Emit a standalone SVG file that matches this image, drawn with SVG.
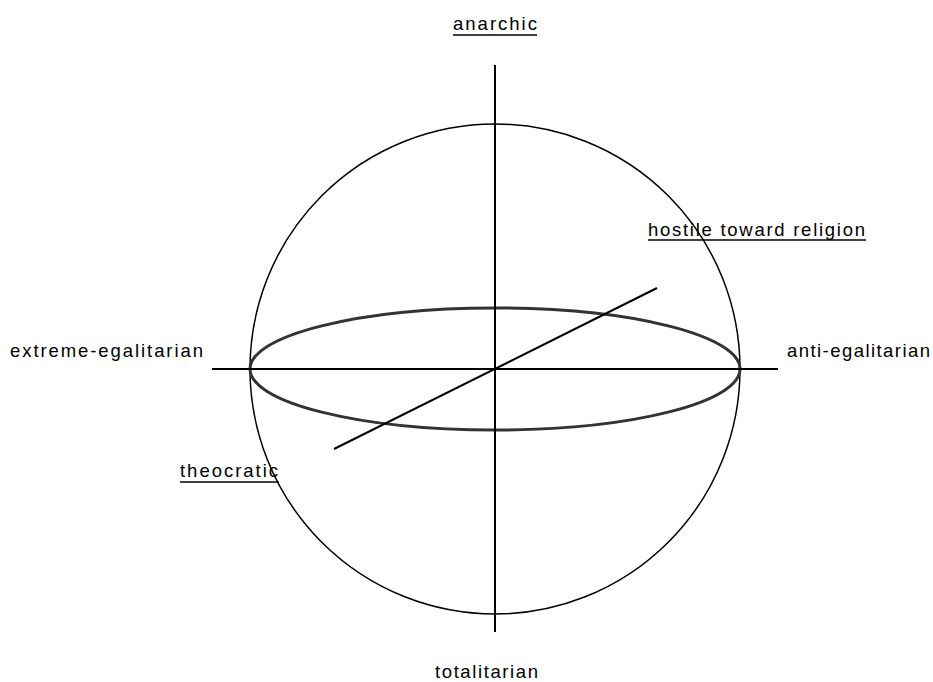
<svg xmlns="http://www.w3.org/2000/svg" width="933" height="682" viewBox="0 0 933 682">
<style>
.ln{stroke:#000;stroke-width:2;fill:none}
.circ{stroke:#000;stroke-width:1.5;fill:none}
.eq{stroke:#333;stroke-width:3;fill:none}
.lbl{font-family:"Liberation Sans",Arial,sans-serif;font-size:18.5px;fill:#000}
.ul{stroke:#000;stroke-width:1.5}
</style>
<rect width="933" height="682" fill="#fff"/>
<g id="connectors">
<circle class="circ" cx="495" cy="369" r="245"/>
<ellipse class="eq" cx="495" cy="369" rx="245" ry="61"/>
<line class="ln" x1="495" y1="65" x2="495" y2="632"/>
<line class="ln" x1="212" y1="369" x2="778" y2="369"/>
<line class="ln" x1="334" y1="449" x2="657" y2="288" stroke-width="1.5"/>
</g>
<g id="anarchic">
<text class="lbl" x="453" y="30" textLength="84" lengthAdjust="spacing">anarchic</text>
<line class="ul" x1="453" y1="35" x2="537" y2="35"/>
</g>
<g id="hostile">
<text class="lbl" x="648" y="236" textLength="217" lengthAdjust="spacing">hostile toward religion</text>
<line class="ul" x1="648" y1="240" x2="866" y2="240"/>
</g>
<g id="extreme">
<text class="lbl" x="10" y="357" textLength="193" lengthAdjust="spacing">extreme-egalitarian</text>
</g>
<g id="anti">
<text class="lbl" x="787" y="357" textLength="143" lengthAdjust="spacing">anti-egalitarian</text>
</g>
<g id="theocratic">
<text class="lbl" x="180" y="477" textLength="98" lengthAdjust="spacing">theocratic</text>
<line class="ul" x1="180" y1="482" x2="279" y2="482"/>
</g>
<g id="totalitarian">
<text class="lbl" x="435" y="678" textLength="103" lengthAdjust="spacing">totalitarian</text>
</g>
</svg>
